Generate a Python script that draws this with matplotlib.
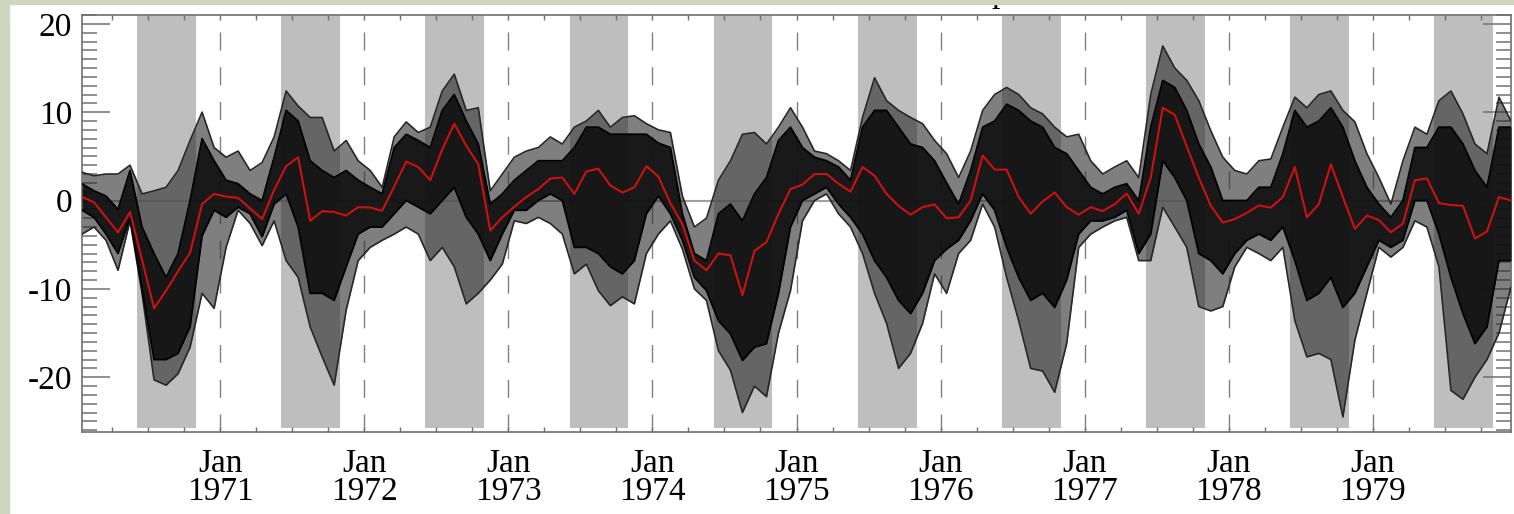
"""Ensemble spread of monthly anomalies 1970-1979, ensemble mean in red."""
import numpy as np
import matplotlib
matplotlib.use('Agg')
import matplotlib.pyplot as plt
from matplotlib.patches import Rectangle
from matplotlib.ticker import MultipleLocator, FixedLocator

plt.rcParams['axes.unicode_minus'] = False

# monthly values, Jan 1970 .. Dec 1979 (index 0 = Jan 1970)
start_year = 1970
label_years = [1971, 1972, 1973, 1974, 1975, 1976, 1977, 1978, 1979]
band_start, band_end = 4.6, 9.5   # shaded season, in months after mid-Jan

ens_mean = [0.4, -0.2, -1.9, -3.6, -1.3, -6.7, -12.2, -10.2, -8.0, -5.9,
            -0.4, 0.75, 0.45, 0.3, -0.9, -2.1, 1.2, 3.9, 4.9, -2.3,
            -1.2, -1.3, -1.7, -0.75, -0.8, -1.15, 1.6, 4.4, 3.8, 2.3,
            5.8, 8.7, 6.2, 4.1, -3.4, -1.9, -0.7, 0.4, 1.3, 2.5,
            2.6, 0.75, 3.3, 3.6, 1.7, 0.9, 1.5, 3.9, 2.7, -0.3,
            -2.7, -6.8, -7.9, -6.0, -6.2, -10.7, -5.7, -4.7, -1.5, 1.3,
            1.8, 3.0, 3.0, 1.9, 1.0, 3.8, 2.8, 0.75, -0.6, -1.6,
            -0.75, -0.45, -2.0, -1.9, 0.0, 5.1, 3.5, 3.5, 0.4, -1.5,
            -0.1, 0.9, -0.75, -1.6, -0.75, -1.2, -0.4, 0.8, -1.5, 2.6,
            10.5, 9.7, 6.1, 2.6, -0.6, -2.5, -2.1, -1.4, -0.56, -0.8,
            0.4, 3.8, -1.9, -0.4, 4.1, 0.4, -3.2, -1.7, -2.2, -3.6,
            -2.6, 2.3, 2.5, -0.3, -0.5, -0.6, -4.3, -3.5, 0.4, 0.0]

# highest / lowest member each month
ens_hi = [3.2, 2.8, 3.0, 3.0, 4.0, 0.75, 1.1, 1.5, 3.4, 6.8,
          10.0, 6.0, 4.9, 5.6, 3.4, 4.3, 7.2, 12.4, 10.7, 9.4,
          9.4, 5.6, 6.8, 4.5, 3.4, 1.5, 7.2, 8.9, 7.7, 8.3,
          12.4, 14.3, 10.2, 10.5, 1.1, 3.0, 4.9, 5.6, 6.0, 7.2,
          6.4, 8.3, 9.0, 10.2, 8.3, 9.4, 9.6, 8.7, 8.0, 7.7,
          0.5, -3.0, -2.0, 2.3, 4.5, 7.5, 7.7, 6.4, 8.3, 10.5,
          8.3, 5.6, 5.3, 4.5, 3.4, 9.4, 13.9, 11.3, 10.2, 9.4,
          8.7, 6.8, 5.3, 2.6, 5.6, 10.2, 12.0, 12.8, 12.0, 10.5,
          9.8, 8.3, 7.2, 7.5, 4.5, 3.0, 3.8, 4.5, 2.6, 12.0,
          17.5, 15.0, 13.6, 11.3, 7.9, 4.9, 3.4, 3.0, 4.5, 4.7,
          8.3, 11.7, 10.5, 12.0, 12.4, 10.2, 8.9, 5.3, 2.6, -0.4,
          4.5, 8.3, 7.5, 11.3, 12.4, 9.8, 6.4, 5.3, 11.7, 9.0]
ens_lo = [-3.8, -3.0, -4.5, -7.9, -2.3, -10.5, -20.3, -20.9, -19.6, -16.6,
          -10.5, -12.2, -5.3, -1.1, -2.6, -5.1, -2.3, -6.8, -8.7, -14.3,
          -17.7, -20.9, -12.4, -6.8, -5.3, -4.5, -3.8, -3.0, -3.8, -6.8,
          -5.3, -7.5, -11.7, -10.5, -9.0, -7.2, -2.3, -2.6, -1.9, -2.6,
          -3.8, -8.3, -7.2, -10.2, -11.9, -10.9, -11.7, -6.0, -3.8, -2.3,
          -5.5, -10.0, -11.3, -17.0, -19.2, -24.0, -21.0, -22.2, -15.0, -10.2,
          -2.3, 0.0, 0.75, -1.5, -3.0, -6.0, -10.5, -13.9, -19.0, -17.3,
          -13.9, -8.3, -10.5, -6.0, -4.5, -0.4, -3.0, -8.7, -13.6, -19.0,
          -19.3, -21.7, -16.2, -5.3, -3.8, -3.0, -2.3, -1.9, -6.8, -6.8,
          -0.75, -3.0, -5.3, -12.0, -12.5, -12.0, -7.5, -5.3, -6.0, -6.8,
          -5.3, -13.6, -17.7, -17.3, -18.0, -24.5, -15.8, -10.5, -5.3, -6.4,
          -5.3, -2.3, -3.0, -7.5, -21.5, -22.5, -20.0, -18.0, -15.0, -9.8]

# where most members are packed
core_hi = [1.9, 1.1, 0.5, -1.0, 3.4, -3.0, -6.0, -8.7, -6.0, 0.0,
           7.0, 4.5, 2.3, 1.9, 0.75, 0.0, 4.9, 10.2, 9.0, 4.5,
           3.4, 2.6, 3.4, 2.3, 1.5, 0.75, 6.0, 7.5, 6.8, 6.0,
           10.2, 12.0, 9.0, 6.4, -0.4, 0.75, 2.3, 3.4, 4.5, 4.5,
           4.5, 6.0, 8.3, 8.3, 7.5, 7.5, 7.5, 7.5, 6.5, 6.0,
           -1.5, -6.0, -6.8, -1.5, -0.4, -2.3, 0.75, 2.6, 6.8, 8.3,
           6.0, 4.9, 4.5, 3.8, 2.3, 8.3, 10.2, 10.2, 8.3, 6.4,
           6.0, 4.5, 2.0, -0.4, 3.4, 8.3, 9.0, 10.9, 10.2, 9.0,
           8.3, 6.0, 5.3, 3.4, 1.5, 0.75, 1.5, 1.9, 0.0, 8.3,
           13.6, 12.8, 10.2, 6.4, 3.8, 0.0, 0.0, 0.0, 1.5, 1.5,
           5.3, 10.2, 8.3, 9.0, 10.5, 8.3, 4.5, 1.5, -0.4, -1.9,
           0.0, 6.0, 6.0, 8.3, 8.3, 6.4, 3.4, 1.5, 8.3, 8.3]
core_lo = [-1.1, -1.9, -3.8, -6.0, -1.9, -10.0, -18.0, -18.0, -17.3, -14.3,
           -4.0, -1.1, -1.9, -0.75, -1.5, -4.1, -0.4, 0.75, -3.0, -10.5,
           -10.5, -11.3, -7.5, -3.8, -3.0, -3.0, -1.5, 0.0, -0.75, -1.5,
           0.0, 1.5, -1.9, -3.8, -6.8, -3.8, -1.1, -1.1, 0.0, 0.75,
           0.0, -5.3, -5.3, -6.0, -7.5, -8.3, -6.8, -1.5, 0.5, -1.5,
           -4.5, -8.7, -10.2, -13.6, -15.1, -18.1, -16.6, -16.2, -10.5, -3.0,
           0.0, 0.75, 1.5, -0.4, -1.9, -3.8, -6.8, -8.7, -11.3, -12.8,
           -10.5, -6.8, -5.5, -4.5, -2.3, 0.75, -1.1, -5.3, -8.7, -11.3,
           -10.5, -12.1, -9.0, -3.8, -2.3, -2.3, -1.9, -1.1, -6.0, -3.8,
           4.5, 2.6, 0.0, -6.0, -6.8, -8.3, -6.0, -4.5, -3.8, -4.5,
           -3.0, -6.8, -11.3, -10.5, -8.7, -12.1, -10.5, -7.5, -4.5, -5.3,
           -4.5, 0.0, 0.0, -3.8, -8.7, -12.8, -16.2, -14.3, -6.8, -6.8]

SERIF = ['Liberation Serif', 'DejaVu Serif']
W, H = 1514, 514
t = np.arange(len(ens_mean))

fig = plt.figure(figsize=(W / 100, H / 100), dpi=100)
ax = fig.add_axes([82 / W, 1 - 432 / H, (1511 - 82) / W, (432 - 15) / H])
ax.set_xlim(0, len(ens_mean) - 1)
ax.set_ylim(-26.2, 21)

# shaded season each year
for k in range(len(ens_mean) // 12):
    ax.fill_between([12 * k + band_start, 12 * k + band_end], -25.7, 21,
                    color='#bebebe', lw=0, zorder=0)

ax.axhline(0, color='#a0a0a0', lw=1.5, zorder=1)
jan_pos = [12 * (y - start_year) - 0.5 for y in label_years]
for x in jan_pos:
    ax.axvline(x, color='#808080', lw=1.0, dashes=(13, 12), zorder=1)

# ensemble spread
ax.fill_between(t, ens_lo, ens_hi, color='#2a2a2a', alpha=0.6, lw=0, zorder=2)
ax.fill_between(t, core_lo, core_hi, color='#111111', alpha=0.93, lw=0, zorder=3)
for arr in (ens_hi, ens_lo):
    ax.plot(t, arr, color='#262626', lw=1.2, zorder=4)
for arr in (core_hi, core_lo):
    ax.plot(t, arr, color='black', lw=1.3, zorder=4)
ax.plot(t, ens_mean, color='#cc1111', lw=1.5, zorder=6)

# axes styling
ax.xaxis.set_major_locator(FixedLocator(jan_pos))
ax.xaxis.set_minor_locator(FixedLocator(np.arange(2.5, len(ens_mean), 3)))
ax.set_xticklabels([f'Jan\n{y}' for y in label_years], family=SERIF,
                   fontsize=24, linespacing=0.9)
ax.yaxis.set_major_locator(MultipleLocator(10))
ax.yaxis.set_minor_locator(MultipleLocator(1))
for lbl in ax.get_yticklabels():
    lbl.set_family(SERIF)
    lbl.set_fontsize(24)
ax.tick_params(axis='x', which='both', direction='in', top=True, length=3.6,
               width=1.0, color='#707070', pad=12)
ax.tick_params(axis='y', which='major', direction='in', right=True, length=20,
               width=1.1, color='#707070', pad=7)
ax.tick_params(axis='y', which='minor', direction='in', right=True, length=11,
               width=1.1, color='#707070')
for sp in ax.spines.values():
    sp.set_color('#707070')
    sp.set_linewidth(1.2)

# title is cut off at the top edge, only the descender shows
fig.text(1000 / W, 1 - 2 / H, 'p', family=SERIF, fontsize=24, va='baseline',
         ha='center', color='black')

# slide background strips at the left and top edges
fig.patches.append(Rectangle((0, 0), 9 / W, 1, transform=fig.transFigure,
                             color='#d0d5bf', zorder=10))
fig.patches.append(Rectangle((0, 1 - 3.5 / H), 1, 3.5 / H, transform=fig.transFigure,
                             color='#d0d5bf', zorder=10))

fig.savefig('out.png', dpi=100)
